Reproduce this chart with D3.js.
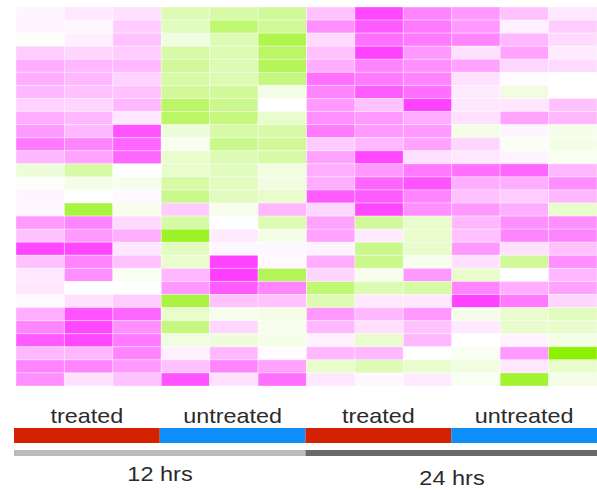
<!DOCTYPE html>
<html>
<head>
<meta charset="utf-8">
<script src="https://cdn.jsdelivr.net/npm/d3@7"></script>
<style>
  body { margin: 0; background: #fff; }
  text { font-family: "Liberation Sans", Arial, sans-serif; fill: #2b2b2b; }
</style>
</head>
<body>
<div id="chart"></div>
<script>
// samples (columns), conditions per block of 3, time points per block of 6
const samples = ["T12a", "T12b", "T12c", "U12a", "U12b", "U12c", "T24a", "T24b", "T24c", "U24a", "U24b", "U24c"];
const conditions = ["treated", "untreated", "treated", "untreated"];
const times = ["12 hrs", "24 hrs"];

// expression values, one row per gene, magenta = up, green = down
const values = [
  [0.05, 0.12, 0.15, -0.30, -0.35, -0.40, 0.30, 0.90, 0.60, 0.50, 0.30, 0.12],
  [0.06, 0.04, 0.25, -0.25, -0.55, -0.40, 0.55, 0.80, 0.65, 0.50, 0.08, 0.25],
  [-0.03, 0.08, 0.30, -0.12, -0.30, -0.70, 0.18, 0.70, 0.65, 0.60, 0.35, 0.18],
  [0.25, 0.20, 0.25, -0.35, -0.30, -0.60, 0.30, 0.92, 0.50, 0.15, 0.45, 0.10],
  [0.40, 0.35, 0.35, -0.40, -0.30, -0.65, 0.40, 0.60, 0.55, 0.45, 0.20, 0.18],
  [0.40, 0.35, 0.22, -0.35, -0.30, -0.50, 0.70, 0.65, 0.60, 0.15, 0.02, 0.00],
  [0.35, 0.30, 0.30, -0.40, -0.40, -0.10, 0.60, 0.80, 0.70, 0.10, -0.12, 0.00],
  [0.22, 0.20, 0.35, -0.60, -0.45, 0.00, 0.50, 0.30, 0.92, 0.12, 0.12, 0.30],
  [0.40, 0.35, 0.12, -0.60, -0.50, -0.20, 0.55, 0.50, 0.40, 0.15, 0.45, 0.35],
  [0.50, 0.35, 0.85, -0.15, -0.35, -0.35, 0.65, 0.50, 0.50, -0.10, 0.05, -0.08],
  [0.65, 0.60, 0.75, -0.05, -0.45, -0.40, 0.25, 0.35, 0.45, 0.20, -0.04, -0.10],
  [0.35, 0.45, 0.75, -0.20, -0.30, -0.35, 0.45, 0.90, 0.15, 0.12, 0.06, -0.06],
  [-0.15, -0.35, 0.00, -0.20, -0.25, -0.12, 0.40, 0.50, 0.65, 0.70, 0.75, 0.35],
  [-0.03, -0.10, -0.07, -0.35, -0.25, -0.12, 0.40, 0.75, 0.85, 0.40, 0.40, 0.55],
  [0.05, 0.00, 0.03, -0.45, -0.25, -0.20, 0.80, 0.80, 0.60, 0.30, 0.25, 0.35],
  [0.04, -0.75, -0.07, 0.25, -0.08, 0.35, 0.20, 0.90, 0.55, 0.50, 0.40, -0.20],
  [0.50, 0.60, 0.18, -0.35, 0.00, -0.30, 0.45, -0.40, -0.20, 0.35, 0.55, 0.55],
  [0.30, 0.50, 0.40, -0.85, 0.10, -0.10, 0.45, 0.10, -0.20, 0.30, 0.60, 0.60],
  [0.90, 0.90, 0.12, -0.25, 0.04, 0.04, 0.06, -0.45, -0.20, 0.50, 0.15, 0.30],
  [0.30, 0.60, 0.30, -0.20, 0.92, 0.03, 0.40, -0.45, -0.07, 0.15, -0.40, 0.55],
  [0.12, 0.55, -0.05, 0.35, 0.95, -0.65, 0.20, -0.07, 0.50, -0.20, 0.00, 0.35],
  [0.12, 0.00, 0.00, 0.50, 0.80, 0.60, -0.55, -0.30, -0.35, 0.60, 0.40, 0.45],
  [0.03, 0.15, 0.25, -0.75, 0.30, 0.30, -0.30, 0.12, 0.12, 0.92, 0.65, 0.20],
  [0.40, 0.85, 0.75, -0.20, -0.07, -0.10, 0.50, 0.35, 0.50, -0.08, -0.20, -0.25],
  [0.60, 0.90, 0.55, -0.50, 0.20, -0.07, 0.35, 0.15, 0.30, 0.10, -0.20, -0.20],
  [0.80, 0.90, 0.65, -0.12, -0.15, -0.10, 0.07, -0.20, 0.35, 0.00, 0.06, -0.10],
  [0.35, 0.35, 0.60, 0.08, 0.35, 0.02, 0.35, 0.35, 0.00, -0.05, 0.50, -1.00],
  [0.60, 0.60, 0.50, 0.30, 0.60, 0.45, -0.20, -0.30, -0.20, -0.12, 0.12, -0.20],
  [0.55, 0.15, 0.30, 0.85, 0.15, 0.70, 0.12, 0.04, 0.10, -0.05, -0.80, -0.10]
];

const conditionColors = ["#d42000", "#0a8ef8", "#d42000", "#0a8ef8"];
const timeColors = ["#bbbbbb", "#6b6b6b"];

const width = 597, height = 490;

const svg = d3.select("#chart").append("svg")
  .attr("width", width)
  .attr("height", height);

const defs = svg.append("defs");
defs.append("filter").attr("id", "soft")
  .append("feGaussianBlur").attr("stdDeviation", 0.5);

const x = d3.scaleBand().domain(d3.range(samples.length)).range([16, 597]);
const y = d3.scaleBand().domain(d3.range(values.length)).range([7, 386]);
const color = d3.scaleLinear()
  .domain([-1, 0, 1])
  .range(["#8cf000", "#ffffff", "#ff33ff"]);

// heatmap cells
const cells = svg.append("g").attr("filter", "url(#soft)");
values.forEach((row, i) => {
  cells.selectAll(null)
    .data(row)
    .enter()
    .append("rect")
    .attr("x", (d, j) => x(j))
    .attr("y", y(i))
    .attr("width", x.bandwidth())
    .attr("height", y.bandwidth())
    .attr("fill", d => color(d))
    .attr("stroke", "#ffffff")
    .attr("stroke-opacity", 0.35)
    .attr("stroke-width", 1);
});

// condition bar
const gx = d3.scaleBand().domain(d3.range(conditions.length)).range([14, 597]);
const cond = svg.append("g").attr("filter", "url(#soft)");
cond.selectAll("rect")
  .data(conditions)
  .enter()
  .append("rect")
  .attr("x", (d, i) => gx(i))
  .attr("y", 428)
  .attr("width", gx.bandwidth())
  .attr("height", 15)
  .attr("fill", (d, i) => conditionColors[i]);

svg.selectAll(".cond-label")
  .data(conditions)
  .enter()
  .append("text")
  .attr("class", "cond-label")
  .attr("transform", (d, i) => `translate(${gx(i) + gx.bandwidth() / 2},423) scale(1.17,1)`)
  .attr("text-anchor", "middle")
  .attr("font-size", 20)
  .text(d => d);

// time bar
const tx = d3.scaleBand().domain(d3.range(times.length)).range([14, 597]);
svg.append("g").attr("filter", "url(#soft)")
  .selectAll("rect")
  .data(times)
  .enter()
  .append("rect")
  .attr("x", (d, i) => tx(i))
  .attr("y", 450)
  .attr("width", tx.bandwidth())
  .attr("height", 6)
  .attr("fill", (d, i) => timeColors[i]);

svg.selectAll(".time-label")
  .data(times)
  .enter()
  .append("text")
  .attr("class", "time-label")
  .attr("transform", (d, i) => `translate(${[160, 452][i]},${[481, 485][i]}) scale(1.12,1)`)
  .attr("text-anchor", "middle")
  .attr("font-size", 21)
  .text(d => d);
</script>
</body>
</html>
